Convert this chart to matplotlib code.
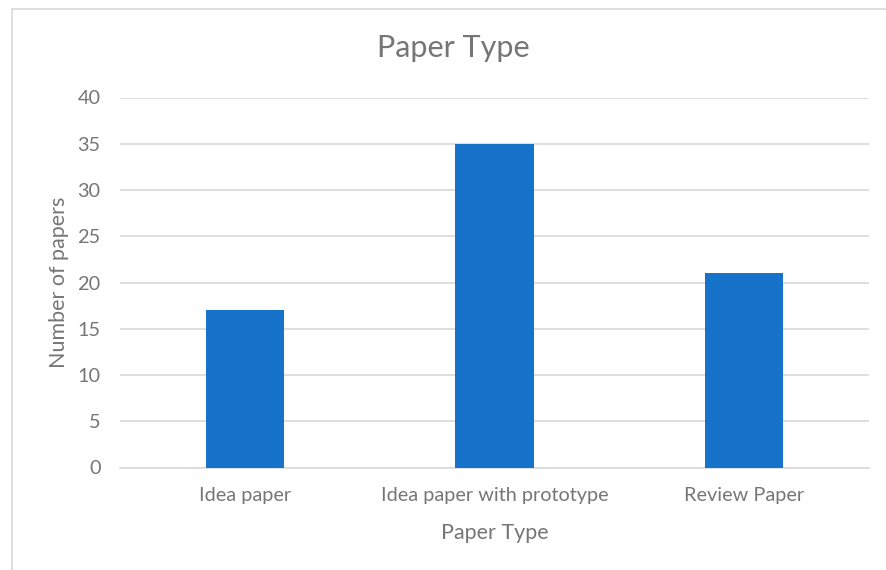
import matplotlib.pyplot as plt
from matplotlib.patches import Rectangle

plt.rcParams["font.family"] = ["Lato", "DejaVu Sans"]

categories = ["Idea paper", "Idea paper with prototype", "Review Paper"]
counts = [17, 35, 21]
yticks = [0, 5, 10, 15, 20, 25, 30, 35, 40]

text_color = "#767676"
grid_color = "#D9D9D9"
bar_color = "#1772C9"

fig = plt.figure(figsize=(8.87, 5.70), dpi=100)
W, H = 887, 570

# chart border (cropped at right and bottom)
fig.patches.append(Rectangle((12.5 / W, -0.01), 1.1, (570 - 8.5) / H + 0.01,
                             transform=fig.transFigure, fill=False,
                             edgecolor=grid_color, linewidth=1.2))

ax = fig.add_axes([120 / W, 1 - 467.5 / H, (869 - 120) / W, (467.5 - 97.5) / H])
x = range(len(categories))
ax.bar(x, counts, width=0.3125, color=bar_color, zorder=3)
ax.set_xlim(-0.5, len(categories) - 0.5)
ax.set_ylim(0, 40)
ax.set_yticks(yticks)
ax.set_xticks(list(x))
ax.set_xticklabels(categories)
ax.yaxis.grid(True, color=grid_color, linewidth=1.2)
ax.set_axisbelow(True)
for s in ["top", "right", "left"]:
    ax.spines[s].set_visible(False)
ax.spines["bottom"].set_color(grid_color)
ax.spines["bottom"].set_linewidth(1.2)
ax.tick_params(length=0, labelsize=14.3, colors=text_color)
ax.tick_params(axis="y", pad=14)
ax.tick_params(axis="x", pad=14)

ax.set_xlabel("Paper Type", fontsize=15.5, color=text_color, labelpad=14)
ax.set_ylabel("Number of papers", fontsize=15.5, color=text_color, labelpad=6)
fig.text(453 / W, 1 - 48 / H, "Paper Type", fontsize=22, color=text_color,
         ha="center", va="center")

fig.savefig("out.png", dpi=100, facecolor="white")
